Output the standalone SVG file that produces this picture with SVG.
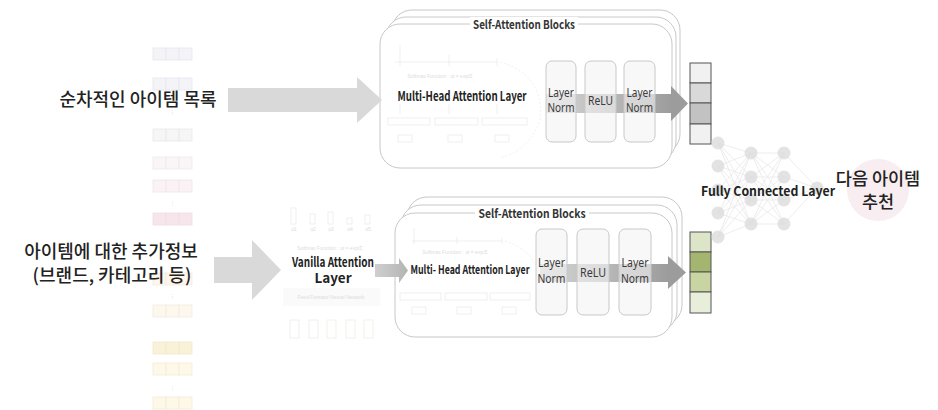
<svg xmlns="http://www.w3.org/2000/svg" width="938" height="410" viewBox="0 0 938 410">
  <style>
    .ko { font-family: "Noto Sans CJK KR", "Noto Sans", sans-serif; font-weight: 500; fill: #222; }
    .lbl { font-family: "Noto Sans CJK KR", "Noto Sans", sans-serif; font-weight: 700; fill: #222; }
    .ttl { font-family: "Noto Sans CJK KR", "Noto Sans", sans-serif; font-weight: 700; fill: #333; font-size: 12px; }
    .ln { font-family: "Noto Sans", sans-serif; fill: #3a3a3a; font-size: 13px; }
    .blk { fill: #fff; stroke: #c8c8c8; stroke-width: 1; }
    .op { fill: #f4f4f4; fill-opacity: 0.6; stroke: #c8c8c8; stroke-width: 1; }
    .cell { stroke: #555; stroke-width: 1; }
    .faint { stroke: #ebebeb; stroke-width: 0.8; fill: none; }
    .tiny { font-family: "Liberation Sans", sans-serif; font-size: 5px; fill: #dcdcdc; }
    .seq { stroke-width: 0.8; }
    .node { fill: #dcdcdc; fill-opacity: 0.8; }
    .edge { stroke: #e8e8e8; stroke-width: 0.8; }
    .big { fill: #d9d9d9; }
  </style>
  <defs>
    <linearGradient id="flow" x1="0" y1="0" x2="1" y2="0">
      <stop offset="0" stop-color="#d6d6d6"/>
      <stop offset="1" stop-color="#9c9c9c"/>
    </linearGradient>
    <linearGradient id="flowSmall" x1="0" y1="0" x2="1" y2="0">
      <stop offset="0" stop-color="#cfcfcf"/>
      <stop offset="1" stop-color="#b4b4b4"/>
    </linearGradient>
  </defs>

  <!-- faded input sequences on the left -->
  <g id="item-sequence">
    <g class="seq" stroke="#e6e6ee" fill="#f4f4f8">
      <rect x="153" y="48" width="13" height="12"/><rect x="166" y="48" width="13" height="12"/><rect x="179" y="48" width="13" height="12"/>
      <rect x="153" y="78" width="13" height="12"/><rect x="166" y="78" width="13" height="12"/><rect x="179" y="78" width="13" height="12"/>
    </g>
    <text x="172.5" y="114" class="tiny" text-anchor="middle" font-size="8">⋮</text>
    <g class="seq" stroke="#e8e8e8" fill="#f6f6f6">
      <rect x="153" y="129" width="13" height="12"/><rect x="166" y="129" width="13" height="12"/><rect x="179" y="129" width="13" height="12"/>
    </g>
    <g class="seq" stroke="#eee8ea" fill="#faf6f8">
      <rect x="153" y="157" width="13" height="12"/><rect x="166" y="157" width="13" height="12"/><rect x="179" y="157" width="13" height="12"/>
    </g>
    <g class="seq" stroke="#f0e6ea" fill="#faf2f5">
      <rect x="153" y="180" width="13" height="12"/><rect x="166" y="180" width="13" height="12"/><rect x="179" y="180" width="13" height="12"/>
    </g>
    <text x="172.5" y="205" class="tiny" text-anchor="middle" font-size="8">⋮</text>
    <g class="seq" stroke="#efdde3" fill="#f6e6ec">
      <rect x="153" y="213" width="13" height="12"/><rect x="166" y="213" width="13" height="12"/><rect x="179" y="213" width="13" height="12"/>
    </g>
  </g>

  <g id="item-features">
    <g class="seq" stroke="#f3ebde" fill="#fdf6ec">
      <rect x="153" y="273" width="13" height="12"/><rect x="166" y="273" width="13" height="12"/><rect x="179" y="273" width="13" height="12"/>
    </g>
    <text x="172.5" y="298" class="tiny" text-anchor="middle" font-size="8">⋮</text>
    <g class="seq" stroke="#f3ebde" fill="#fdf7ee">
      <rect x="153" y="305" width="13" height="12"/><rect x="166" y="305" width="13" height="12"/><rect x="179" y="305" width="13" height="12"/>
    </g>
    <g class="seq" stroke="#f1e8d0" fill="#faf2d8">
      <rect x="153" y="342" width="13" height="12"/><rect x="166" y="342" width="13" height="12"/><rect x="179" y="342" width="13" height="12"/>
    </g>
    <g class="seq" stroke="#f2ebd8" fill="#fdf8e8">
      <rect x="153" y="363" width="13" height="12"/><rect x="166" y="363" width="13" height="12"/><rect x="179" y="363" width="13" height="12"/>
    </g>
    <text x="172.5" y="390" class="tiny" text-anchor="middle" font-size="8">⋮</text>
    <g class="seq" stroke="#f2ebd8" fill="#fdf8e8">
      <rect x="153" y="397" width="13" height="12"/><rect x="166" y="397" width="13" height="12"/><rect x="179" y="397" width="13" height="12"/>
    </g>
  </g>

  <!-- input captions -->
  <g id="input-sequence-label">
    <text x="138" y="106" class="ko" font-size="18" text-anchor="middle">순차적인 아이템 목록</text>
  </g>
  <g id="input-feature-label">
    <text x="111" y="258" class="ko" font-size="18" text-anchor="middle">아이템에 대한 추가정보</text>
    <text x="112" y="282" class="ko" font-size="18" text-anchor="middle">(브랜드, 카테고리 등)</text>
  </g>

  <!-- vanilla attention layer (faded sketch) -->
  <g id="vanilla-attention">
    <g class="faint">
      <rect x="291" y="208" width="5" height="16"/>
      <rect x="310" y="214" width="5" height="10"/>
      <rect x="328" y="212" width="5" height="12"/>
      <rect x="347" y="218" width="5" height="6"/>
      <rect x="365" y="215" width="5" height="9"/>
    </g>
    <text x="294" y="231" class="tiny" text-anchor="middle">α1</text>
    <text x="313" y="231" class="tiny" text-anchor="middle">α2</text>
    <text x="331" y="231" class="tiny" text-anchor="middle">α3</text>
    <text x="350" y="231" class="tiny" text-anchor="middle">α4</text>
    <text x="368" y="231" class="tiny" text-anchor="middle">α5</text>
    <text x="330" y="250" class="tiny" text-anchor="middle">Softmax Function : αi = exp/Σ</text>
    <rect x="283" y="288" width="97" height="18" fill="#fafafa"/>
    <text x="331" y="299" class="tiny" text-anchor="middle">Feed Forward Neural Network</text>
    <g class="faint">
      <rect x="290" y="320" width="9" height="18"/>
      <rect x="309" y="320" width="9" height="18"/>
      <rect x="327" y="320" width="9" height="18" stroke="#efede2"/>
      <rect x="346" y="320" width="9" height="18" stroke="#efede2"/>
      <rect x="364" y="320" width="9" height="18" stroke="#efede2"/>
    </g>
    <text x="333" y="267" class="lbl" font-size="13.5" text-anchor="middle" textLength="82" lengthAdjust="spacingAndGlyphs">Vanilla Attention</text>
    <text x="333" y="283" class="lbl" font-size="13.5" text-anchor="middle">Layer</text>
  </g>

  <!-- top self-attention block stack -->
  <g id="self-attention-top">
    <rect x="392" y="10" width="288" height="144" rx="20" class="blk"/>
    <rect x="386" y="17" width="290" height="144" rx="20" class="blk"/>
    <rect x="380" y="24" width="292" height="144" rx="20" class="blk"/>
    <rect x="470" y="17" width="108" height="14" fill="#fff"/>
    <text x="524" y="29" class="ttl" text-anchor="middle" textLength="102" lengthAdjust="spacingAndGlyphs">Self-Attention Blocks</text>
    <!-- multi-head attention sketch -->
    <g class="faint">
      <line x1="395" y1="62" x2="497" y2="62"/>
      <line x1="400" y1="45" x2="400" y2="66"/>
      <line x1="449" y1="55" x2="449" y2="66"/>
      <line x1="497" y1="58" x2="497" y2="66"/>
      <path d="M500 62 Q545 75 540 120 Q530 150 500 158" stroke-dasharray="2 2"/>
      <line x1="400" y1="104" x2="400" y2="114"/>
      <line x1="449" y1="104" x2="449" y2="114"/>
      <line x1="497" y1="104" x2="497" y2="114"/>
    </g>
    <text x="440" y="78" class="tiny" text-anchor="middle">Softmax Function : αi = exp/Σ</text>
    <g class="faint">
      <rect x="388" y="118" width="42" height="7"/>
      <rect x="435" y="118" width="43" height="7"/>
      <rect x="482" y="118" width="45" height="7"/>
      <rect x="398" y="135" width="14" height="7"/>
      <rect x="448" y="135" width="14" height="7"/>
      <rect x="495" y="135" width="14" height="7"/>
    </g>
    <text x="462" y="101" class="lbl" font-size="13" text-anchor="middle" textLength="129" lengthAdjust="spacingAndGlyphs">Multi-Head Attention Layer</text>
    <!-- data flow through normalisation stack -->
    <rect x="546" y="94" width="126" height="19" fill="url(#flow)"/>
    <polygon points="671,86 688,103.5 671,121" fill="#9c9c9c"/>
    <rect x="546" y="61" width="30" height="81" rx="6" class="op"/>
    <rect x="585" y="61" width="31" height="81" rx="6" class="op"/>
    <rect x="624" y="61" width="31" height="81" rx="6" class="op"/>
    <text x="561" y="97" class="ln" text-anchor="middle" textLength="26" lengthAdjust="spacingAndGlyphs">Layer</text>
    <text x="561" y="112" class="ln" text-anchor="middle" textLength="27" lengthAdjust="spacingAndGlyphs">Norm</text>
    <text x="600.5" y="105" class="ln" text-anchor="middle" textLength="25" lengthAdjust="spacingAndGlyphs">ReLU</text>
    <text x="639.5" y="97" class="ln" text-anchor="middle" textLength="26" lengthAdjust="spacingAndGlyphs">Layer</text>
    <text x="639.5" y="112" class="ln" text-anchor="middle" textLength="27" lengthAdjust="spacingAndGlyphs">Norm</text>
  </g>

  <!-- bottom self-attention block stack -->
  <g id="self-attention-bottom">
    <rect x="407" y="197" width="275" height="128" rx="20" class="blk"/>
    <rect x="401" y="205" width="276" height="126" rx="20" class="blk"/>
    <rect x="395" y="213" width="277" height="124" rx="20" class="blk"/>
    <rect x="475" y="206" width="114" height="14" fill="#fff"/>
    <text x="532" y="218" class="ttl" text-anchor="middle" textLength="107" lengthAdjust="spacingAndGlyphs">Self-Attention Blocks</text>
    <g class="faint">
      <line x1="412" y1="241" x2="502" y2="241"/>
      <line x1="414" y1="228" x2="414" y2="244"/>
      <line x1="457" y1="237" x2="457" y2="244"/>
      <line x1="502" y1="238" x2="502" y2="244"/>
      <path d="M505 241 Q530 250 535 265" stroke-dasharray="2 2"/>
    </g>
    <text x="455" y="254" class="tiny" text-anchor="middle">Softmax Function : αi = exp/Σ</text>
    <g class="faint">
      <rect x="400" y="293" width="41" height="7"/>
      <rect x="445" y="293" width="42" height="7"/>
      <rect x="490" y="293" width="40" height="7"/>
      <rect x="412" y="307" width="14" height="7"/>
      <rect x="457" y="307" width="14" height="7"/>
      <rect x="502" y="307" width="14" height="7"/>
    </g>
    <text x="470" y="274" class="lbl" font-size="12" text-anchor="middle" textLength="119" lengthAdjust="spacingAndGlyphs">Multi- Head Attention Layer</text>
    <rect x="540" y="264" width="129" height="18" fill="url(#flow)"/>
    <polygon points="668,256 686,272.5 668,289" fill="#9c9c9c"/>
    <rect x="536" y="229" width="31" height="86" rx="6" class="op"/>
    <rect x="577" y="229" width="32" height="86" rx="6" class="op"/>
    <rect x="619" y="229" width="32" height="86" rx="6" class="op"/>
    <text x="551.5" y="267" class="ln" text-anchor="middle" textLength="27" lengthAdjust="spacingAndGlyphs">Layer</text>
    <text x="551.5" y="283" class="ln" text-anchor="middle" textLength="28" lengthAdjust="spacingAndGlyphs">Norm</text>
    <text x="593" y="277" class="ln" text-anchor="middle" textLength="26" lengthAdjust="spacingAndGlyphs">ReLU</text>
    <text x="635" y="267" class="ln" text-anchor="middle" textLength="27" lengthAdjust="spacingAndGlyphs">Layer</text>
    <text x="635" y="283" class="ln" text-anchor="middle" textLength="28" lengthAdjust="spacingAndGlyphs">Norm</text>
  </g>

  <!-- output embeddings -->
  <g id="sequence-embedding">
    <rect x="690" y="63" width="21" height="20" class="cell" fill="#f1f1f1"/>
    <rect x="690" y="83" width="21" height="20" class="cell" fill="#d9d9d9"/>
    <rect x="690" y="103" width="21" height="21" class="cell" fill="#c2c2c2"/>
    <rect x="690" y="124" width="21" height="20" class="cell" fill="#f1f1f1"/>
  </g>
  <g id="feature-embedding">
    <rect x="690" y="232" width="21" height="20" class="cell" fill="#dde5c9"/>
    <rect x="690" y="252" width="21" height="20" class="cell" fill="#a3b56e"/>
    <rect x="690" y="272" width="21" height="20" class="cell" fill="#c8d5a3"/>
    <rect x="690" y="292" width="21" height="21" class="cell" fill="#e7eed9"/>
  </g>

  <!-- fully connected layer -->
  <g id="fully-connected">
    <g class="edge">
      <path d="M718 143L751 153M718 143L751 177M718 143L751 200M718 143L751 224
               M718 166L751 153M718 166L751 177M718 166L751 200M718 166L751 224
               M718 190L751 153M718 190L751 177M718 190L751 200M718 190L751 224
               M718 213L751 153M718 213L751 177M718 213L751 200M718 213L751 224
               M718 237L751 153M718 237L751 177M718 237L751 200M718 237L751 224
               M751 153L784 153M751 153L784 177M751 153L784 200M751 153L784 224
               M751 177L784 153M751 177L784 177M751 177L784 200M751 177L784 224
               M751 200L784 153M751 200L784 177M751 200L784 200M751 200L784 224
               M751 224L784 153M751 224L784 177M751 224L784 200M751 224L784 224
               M784 153L817 188M784 177L817 188M784 200L817 188M784 224L817 188"/>
    </g>
    <circle cx="718" cy="143" r="6.5" class="node"/>
    <circle cx="718" cy="166" r="6.5" class="node"/>
    <circle cx="718" cy="190" r="6.5" class="node"/>
    <circle cx="718" cy="213" r="6.5" class="node"/>
    <circle cx="718" cy="237" r="6.5" class="node"/>
    <circle cx="751" cy="153" r="6.5" class="node"/>
    <circle cx="751" cy="177" r="6.5" class="node"/>
    <circle cx="751" cy="200" r="6.5" class="node"/>
    <circle cx="751" cy="224" r="6.5" class="node"/>
    <circle cx="784" cy="153" r="6.5" class="node"/>
    <circle cx="784" cy="177" r="6.5" class="node"/>
    <circle cx="784" cy="200" r="6.5" class="node"/>
    <circle cx="784" cy="224" r="6.5" class="node"/>
    <circle cx="817" cy="188" r="6.5" class="node" fill-opacity="0.5"/>
    <text x="768" y="196" class="lbl" font-size="13" text-anchor="middle" textLength="134" lengthAdjust="spacingAndGlyphs">Fully Connected Layer</text>
  </g>

  <!-- recommendation output -->
  <g id="next-item">
    <circle cx="878" cy="190" r="31" fill="#f8edf0"/>
    <text x="878" y="185" class="ko" font-size="17.5" text-anchor="middle">다음 아이템</text>
    <text x="878" y="208" class="ko" font-size="17.5" text-anchor="middle">추천</text>
  </g>

  <!-- connectors -->
  <g id="connectors">
    <path d="M228 88H357V77L382 100L357 123V112H228Z" class="big"/>
    <path d="M214 257H252V240L281 270L252 300V283H214Z" class="big"/>
    <path d="M375 264H399V258L408 270.5L399 283V277H375Z" fill="url(#flowSmall)"/>
  </g>
</svg>
